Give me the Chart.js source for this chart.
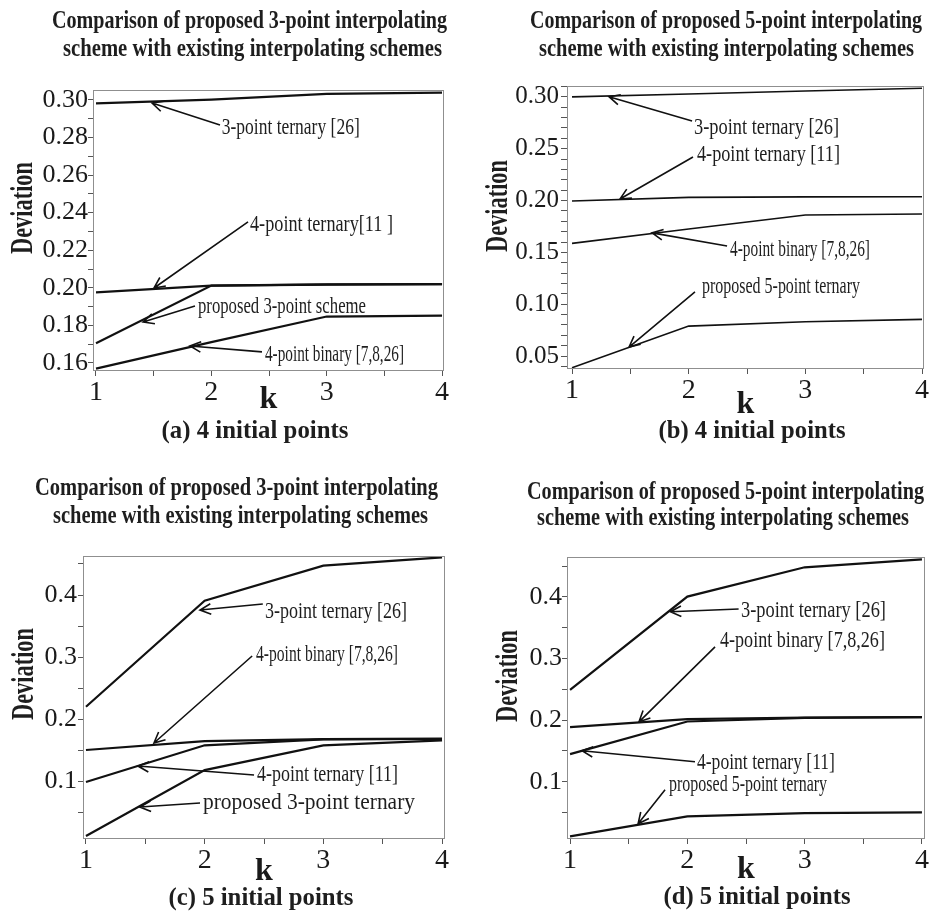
<!DOCTYPE html>
<html>
<head>
<meta charset="utf-8">
<script src="https://cdn.jsdelivr.net/npm/chart.js@4.4.1/dist/chart.umd.min.js"></script>
<style>
  html, body { margin: 0; padding: 0; background: #fff; }
  #fig { position: relative; width: 934px; height: 913px; }
  canvas { position: absolute; }
</style>
</head>
<body>
<div id="fig">
  <canvas id="chart-a" width="467" height="450" style="left:0;top:0"></canvas>
  <canvas id="chart-b" width="467" height="450" style="left:467px;top:0"></canvas>
  <canvas id="chart-c" width="467" height="463" style="left:0;top:450px"></canvas>
  <canvas id="chart-d" width="467" height="463" style="left:467px;top:450px"></canvas>
</div>
<script>
// iteration k on the x axis
var kValues = [1, 2, 3, 4];
var xTicks = [1, 1.5, 2, 2.5, 3, 3.5, 4];
var xLabels = [1, 2, 3, 4];

// (a) 4 initial points, proposed 3-point scheme
var a3PointTernary = [0.2982, 0.3002, 0.3032, 0.3039];
var a4PointTernary = [0.1976, 0.2011, 0.2017, 0.2019];
var aProposed3Point = [0.1705, 0.2012, 0.2018, 0.2020];
var a4PointBinary = [0.1570, 0.1711, 0.1847, 0.1852];
var aYTicks = [0.16, 0.17, 0.18, 0.19, 0.20, 0.21, 0.22, 0.23, 0.24, 0.25, 0.26, 0.27, 0.28, 0.29, 0.30];
var aYLabels = [0.16, 0.18, 0.20, 0.22, 0.24, 0.26, 0.28, 0.30];

// (b) 4 initial points, proposed 5-point scheme
var b3PointTernary = [0.3000, 0.3028, 0.3057, 0.3083];
var b4PointTernary = [0.1996, 0.2031, 0.2035, 0.2037];
var b4PointBinary = [0.1587, 0.1725, 0.1860, 0.1870];
var bProposed5Point = [0.0387, 0.0789, 0.0831, 0.0854];
var bYTicks = [0.04, 0.05, 0.06, 0.07, 0.08, 0.09, 0.10, 0.11, 0.12, 0.13, 0.14, 0.15, 0.16, 0.17,
               0.18, 0.19, 0.20, 0.21, 0.22, 0.23, 0.24, 0.25, 0.26, 0.27, 0.28, 0.29, 0.30, 0.31];
var bYLabels = [0.05, 0.10, 0.15, 0.20, 0.25, 0.30];

// (c) 5 initial points, proposed 3-point scheme
var c3PointTernary = [0.2198, 0.3908, 0.4473, 0.4608];
var c4PointBinary = [0.1500, 0.1645, 0.1677, 0.1685];
var c4PointTernary = [0.0984, 0.1576, 0.1672, 0.1678];
var cProposed3Point = [0.0113, 0.1177, 0.1576, 0.1655];
var cYTicks = [0.05, 0.1, 0.15, 0.2, 0.25, 0.3, 0.35, 0.4, 0.45];
var cYLabels = [0.1, 0.2, 0.3, 0.4];

// (d) 5 initial points, proposed 5-point scheme
var d3PointTernary = [0.2492, 0.4005, 0.4481, 0.4611];
var d4PointBinary = [0.1887, 0.2017, 0.2043, 0.2049];
var d4PointTernary = [0.1449, 0.1978, 0.2038, 0.2048];
var dProposed5Point = [0.0113, 0.0437, 0.0492, 0.0502];
var dYTicks = [0.05, 0.1, 0.15, 0.2, 0.25, 0.3, 0.35, 0.4, 0.45];
var dYLabels = [0.1, 0.2, 0.3, 0.4];

// arrow labels, anchored in data units (k, deviation)
var aNotes = [
  { text: '3-point ternary [26]', at: [2.09, 0.2851], from: [2.075, 0.2867], tip: [1.486, 0.2984], width: 138 },
  { text: '4-point ternary[11 ]', at: [2.335, 0.2335], from: [2.318, 0.2351], tip: [1.503, 0.1999], width: 143 },
  { text: 'proposed 3-point scheme', at: [1.884, 0.1898], from: [1.858, 0.1903], tip: [1.408, 0.1818], width: 168 },
  { text: '4-point binary [7,8,26]', at: [2.465, 0.1643], from: [2.439, 0.1659], tip: [1.815, 0.169], width: 139 }
];
var bNotes = [
  { text: '3-point ternary [26]', at: [2.046, 0.270], from: [2.029, 0.2768], tip: [1.317, 0.3002], width: 145 },
  { text: '4-point ternary [11]', at: [2.071, 0.244], from: [2.037, 0.242], tip: [1.411, 0.2015], width: 143 },
  { text: '4-point binary [7,8,26]', at: [2.354, 0.1523], from: [2.329, 0.1562], tip: [1.686, 0.1688], width: 140 },
  { text: 'proposed 5-point ternary', at: [2.114, 0.1166], from: [2.054, 0.1118], tip: [1.489, 0.0587], width: 158 }
];
var cNotes = [
  { text: '3-point ternary [26]', at: [2.508, 0.3726], from: [2.49, 0.3855], tip: [1.961, 0.3758], width: 142 },
  { text: '4-point binary [7,8,26]', at: [2.433, 0.3032], from: [2.40, 0.3016], tip: [1.573, 0.1613], width: 142 },
  { text: '4-point ternary [11]', at: [2.441, 0.1097], from: [2.416, 0.1097], tip: [1.438, 0.1242], width: 141 },
  { text: 'proposed 3-point ternary', at: [1.986, 0.0645], from: [1.961, 0.0645], tip: [1.455, 0.058], width: 212 }
];
var dNotes = [
  { text: '3-point ternary [26]', at: [2.457, 0.3773], from: [2.437, 0.3805], tip: [1.855, 0.376], width: 145 },
  { text: '4-point binary [7,8,26]', at: [2.278, 0.3286], from: [2.236, 0.3189], tip: [1.588, 0.1973], width: 165 },
  { text: '4-point ternary [11]', at: [2.082, 0.1308], from: [2.065, 0.1324], tip: [1.102, 0.1503], width: 138 },
  { text: 'proposed 5-point ternary', at: [1.844, 0.0951], from: [1.81, 0.087], tip: [1.58, 0.0319], width: 158 }
];

var title3 = ['Comparison of proposed 3-point interpolating', 'scheme with existing interpolating schemes'];
var title5 = ['Comparison of proposed 5-point interpolating', 'scheme with existing interpolating schemes'];

var SERIF = "'Liberation Serif', 'Times New Roman', serif";
Chart.defaults.font.family = SERIF;
Chart.defaults.color = '#1a1a1a';

var panels = [
  { id: 'chart-a', w: 467, h: 450, area: { left: 93, right: 444, top: 90, bottom: 371 },
    xRange: [0.974, 4.017], yRange: [0.1557, 0.3053], yTicks: aYTicks, yLabels: aYLabels, digits: 2,
    yFont: 26, yTickLen: 5, yPad: 0, lineWidth: 2.2, kPad: 31,
    series: [a3PointTernary, a4PointTernary, aProposed3Point, a4PointBinary],
    names: ['3-point ternary [26]', '4-point ternary [11]', 'proposed 3-point scheme', '4-point binary [7,8,26]'],
    title: title3, titleX: [249.5, 252.5], titleY: [28, 56], titleW: [395, 379], titleSize: 26,
    yTitle: { x: 24, y: 208 }, caption: '(a) 4 initial points', cap: { x: 255, y: 438, w: 187 }, notes: aNotes },
  { id: 'chart-b', w: 467, h: 450, area: { left: 100, right: 457, top: 86, bottom: 369 },
    xRange: [0.957, 4.017], yRange: [0.0375, 0.3105], yTicks: bYTicks, yLabels: bYLabels, digits: 2,
    yFont: 25, yTickLen: 6, yPad: 2, lineWidth: 1.6, kPad: 26,
    series: [b3PointTernary, b4PointTernary, b4PointBinary, bProposed5Point],
    names: ['3-point ternary [26]', '4-point ternary [11]', '4-point binary [7,8,26]', 'proposed 5-point ternary'],
    title: title5, titleX: [259, 259.5], titleY: [28, 56], titleW: [392, 375], titleSize: 26,
    yTitle: { x: 32, y: 206 }, caption: '(b) 4 initial points', cap: { x: 285, y: 438, w: 187 }, notes: bNotes },
  { id: 'chart-c', w: 467, h: 463, area: { left: 83, right: 445, top: 106, bottom: 389 },
    xRange: [0.975, 4.025], yRange: [0.0065, 0.4629], yTicks: cYTicks, yLabels: cYLabels, digits: 1,
    yFont: 26, yTickLen: 5, yPad: 1, lineWidth: 2.2, kPad: 22,
    series: [c3PointTernary, c4PointBinary, c4PointTernary, cProposed3Point],
    names: ['3-point ternary [26]', '4-point binary [7,8,26]', '4-point ternary [11]', 'proposed 3-point ternary'],
    title: title3, titleX: [236.5, 240.5], titleY: [45, 73], titleW: [403, 375], titleSize: 25,
    yTitle: { x: 25, y: 224 }, caption: '(c) 5 initial points', cap: { x: 261, y: 455, w: 185 }, notes: cNotes },
  { id: 'chart-d', w: 467, h: 463, area: { left: 100, right: 458, top: 107, bottom: 389 },
    xRange: [0.974, 4.026], yRange: [0.0071, 0.4648], yTicks: dYTicks, yLabels: dYLabels, digits: 1,
    yFont: 26, yTickLen: 5, yPad: 0, lineWidth: 2.2, kPad: 24,
    series: [d3PointTernary, d4PointBinary, d4PointTernary, dProposed5Point],
    names: ['3-point ternary [26]', '4-point binary [7,8,26]', '4-point ternary [11]', 'proposed 5-point ternary'],
    title: title5, titleX: [258.5, 256], titleY: [49, 75], titleW: [397, 372], titleSize: 25,
    yTitle: { x: 42, y: 226 }, caption: '(d) 5 initial points', cap: { x: 290, y: 454, w: 187 }, notes: dNotes }
];

// draw text squeezed/stretched to a given width (the original uses a condensed face)
function fitText(ctx, text, x, y, width, font, align, baseline, rotate) {
  ctx.save();
  ctx.font = font;
  ctx.textAlign = align;
  ctx.textBaseline = baseline;
  var sx = width / ctx.measureText(text).width;
  ctx.translate(x, y);
  if (rotate) ctx.rotate(rotate);
  ctx.scale(sx, 1);
  ctx.fillText(text, 0, 0);
  ctx.restore();
}

function arrow(ctx, x1, y1, x2, y2) {
  var ang = Math.atan2(y2 - y1, x2 - x1), len = 12, spread = 0.45;
  ctx.beginPath();
  ctx.moveTo(x1, y1);
  ctx.lineTo(x2, y2);
  ctx.moveTo(x2 - len * Math.cos(ang - spread), y2 - len * Math.sin(ang - spread));
  ctx.lineTo(x2, y2);
  ctx.lineTo(x2 - len * Math.cos(ang + spread), y2 - len * Math.sin(ang + spread));
  ctx.stroke();
}

function hasValue(list, v) {
  return list.some(function (l) { return Math.abs(l - v) < 1e-9; });
}

function makeTextPlugin(p) {
  return {
    id: 'figureText',
    afterDraw: function (chart) {
      var ctx = chart.ctx, area = chart.chartArea;
      var xs = chart.scales.x, ys = chart.scales.y;
      ctx.save();
      // box round the plot
      ctx.strokeStyle = '#8f8f8f';
      ctx.lineWidth = 1;
      ctx.strokeRect(area.left + 0.5, area.top + 0.5, area.right - area.left - 1, area.bottom - area.top - 1);

      ctx.fillStyle = '#1e1e1e';
      // title, two lines
      for (var i = 0; i < 2; i++) {
        fitText(ctx, p.title[i], p.titleX[i], p.titleY[i], p.titleW[i],
          'bold ' + p.titleSize + 'px ' + SERIF, 'center', 'alphabetic');
      }
      // y axis title
      fitText(ctx, 'Deviation', p.yTitle.x, p.yTitle.y, 92, 'bold 32px ' + SERIF, 'center', 'middle', -Math.PI / 2);
      // caption
      fitText(ctx, p.caption, p.cap.x, p.cap.y, p.cap.w, 'bold 26px ' + SERIF, 'center', 'alphabetic');

      // arrows and their labels
      ctx.strokeStyle = '#111';
      ctx.lineWidth = 1.6;
      p.notes.forEach(function (n) {
        arrow(ctx, xs.getPixelForValue(n.from[0]), ys.getPixelForValue(n.from[1]),
          xs.getPixelForValue(n.tip[0]), ys.getPixelForValue(n.tip[1]));
        fitText(ctx, n.text, xs.getPixelForValue(n.at[0]), ys.getPixelForValue(n.at[1]), n.width,
          '23px ' + SERIF, 'left', 'middle');
      });
      ctx.restore();
    }
  };
}

panels.forEach(function (p) {
  var datasets = p.series.map(function (s, i) {
    return {
      label: p.names[i],
      data: kValues.map(function (k, j) { return { x: k, y: s[j] }; }),
      borderColor: '#111',
      borderWidth: p.lineWidth,
      pointRadius: 0,
      tension: 0,
      fill: false
    };
  });

  new Chart(document.getElementById(p.id), {
    type: 'line',
    data: { datasets: datasets },
    options: {
      responsive: false,
      animation: false,
      layout: { padding: { left: 0, top: p.area.top, right: p.w - p.area.right, bottom: 0 } },
      plugins: { legend: { display: false }, tooltip: { enabled: false } },
      scales: {
        x: {
          type: 'linear',
          min: p.xRange[0],
          max: p.xRange[1],
          afterBuildTicks: function (scale) {
            scale.ticks = xTicks.map(function (v) { return { value: v }; });
          },
          afterFit: function (scale) { scale.height = p.h - p.area.bottom; },
          grid: { drawOnChartArea: false, drawTicks: true, tickLength: 5, color: '#555' },
          border: { display: false },
          ticks: {
            autoSkip: false,
            maxRotation: 0,
            padding: 0,
            color: '#1a1a1a',
            font: { size: 28 },
            callback: function (v) { return hasValue(xLabels, v) ? String(v) : ''; }
          },
          title: {
            display: true,
            text: 'k',
            color: '#1a1a1a',
            font: { size: 32, weight: 'bold' },
            padding: { top: 0, bottom: p.kPad }
          }
        },
        y: {
          type: 'linear',
          min: p.yRange[0],
          max: p.yRange[1],
          afterBuildTicks: function (scale) {
            scale.ticks = p.yTicks.map(function (v) { return { value: v }; });
          },
          afterFit: function (scale) { scale.width = p.area.left; },
          grid: { drawOnChartArea: false, drawTicks: true, tickLength: p.yTickLen, color: '#555' },
          border: { display: false },
          ticks: {
            autoSkip: false,
            padding: p.yPad,
            color: '#1a1a1a',
            font: { size: p.yFont },
            callback: function (v) { return hasValue(p.yLabels, v) ? v.toFixed(p.digits) : ''; }
          }
        }
      }
    },
    plugins: [makeTextPlugin(p)]
  });
});
</script>
</body>
</html>
